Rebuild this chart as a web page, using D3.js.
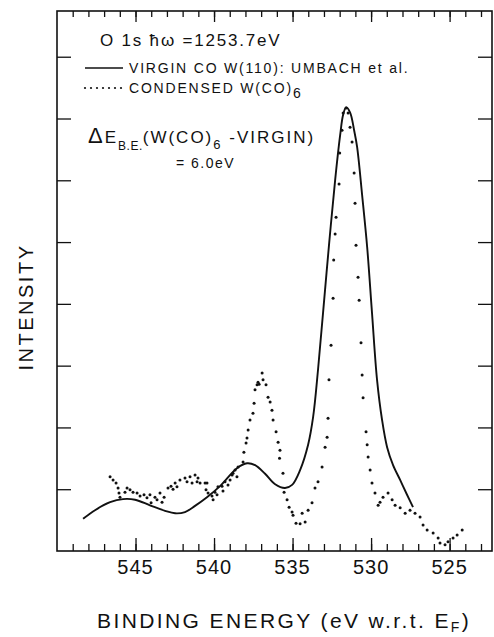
<!DOCTYPE html>
<html><head><meta charset="utf-8">
<script src="https://cdn.jsdelivr.net/npm/d3@7/dist/d3.min.js"></script>
<style>
body{margin:0;background:#fff}
text{font-family:"Liberation Sans",Arial,sans-serif;fill:#111}
</style></head>
<body><svg id="c" width="494" height="637"></svg>
<script>
// ---- data (binding energy eV, intensity arb. units) ----
const virginE = [548.34,547.58,546.62,545.80,545.03,544.08,543.12,542.48,541.85,541.21,540.45,539.62,538.54,537.90,537.39,536.75,536.11,535.48,535.03,534.52,534.01,533.69,533.38,533.06,532.68,532.29,531.97,531.78,531.59,531.34,531.08,530.89,530.57,530.25,529.94,529.62,529.30,528.98,528.60,528.15,527.71,527.33];
const virginI = [0.52,0.66,0.79,0.84,0.83,0.74,0.65,0.61,0.63,0.73,0.87,1.05,1.34,1.42,1.39,1.25,1.08,1.02,1.07,1.31,1.72,2.17,2.93,3.85,4.95,6.00,6.73,7.06,7.18,7.10,6.81,6.54,5.76,4.92,3.85,2.77,2.12,1.68,1.39,1.15,0.91,0.71];

const condensedE = [546.62,546.43,546.24,546.11,546.05,545.99,545.67,545.54,545.35,545.16,544.90,544.71,544.46,544.27,544.08,544.01,543.76,543.63,543.44,543.31,543.18,542.93,542.74,542.61,542.48,542.36,542.17,541.85,541.72,541.53,541.40,541.21,541.08,541.02,540.89,540.57,540.45,540.51,540.38,540.13,540.06,539.94,539.81,539.75,539.49,539.43,539.30,539.11,538.98,538.85,538.79,538.66,538.54,538.47,538.15,538.10,537.96,537.90,537.83,537.71,537.52,537.45,537.39,537.26,537.20,537.13,536.94,536.88,536.69,536.56,536.43,536.31,536.24,536.05,535.92,535.80,535.83,535.61,535.54,535.35,535.22,535.03,534.97,534.78,534.52,534.39,534.20,534.01,533.76,533.57,533.38,533.12,532.93,532.80,532.74,532.68,532.55,532.42,532.38,532.29,532.23,532.04,532.00,531.85,531.78,531.59,531.46,531.34,531.21,531.08,531.02,530.96,530.83,530.76,530.64,530.57,530.51,530.32,530.25,530.19,530.06,529.94,529.75,529.55,529.43,529.24,528.92,528.66,528.47,528.15,527.83,527.52,527.20,526.88,526.69,526.43,526.05,525.73,525.61,525.29,525.10,524.78,524.52,524.20];
const condensedI = [1.20,1.15,1.10,1.02,0.94,0.87,0.95,1.02,0.99,0.95,0.94,0.89,0.91,0.86,0.91,0.78,0.87,0.83,0.94,0.79,0.87,1.02,1.05,1.00,1.10,1.04,1.15,1.18,1.12,1.20,1.10,1.23,1.12,1.18,1.10,1.10,1.10,0.99,0.94,0.89,0.83,0.95,0.91,1.04,1.05,0.97,1.12,1.07,1.15,1.23,1.26,1.31,1.20,1.36,1.44,1.60,1.75,1.83,1.96,2.12,2.23,2.39,2.61,2.69,2.73,2.70,2.88,2.77,2.69,2.49,2.41,2.28,2.12,1.93,1.76,1.63,1.50,1.26,0.95,0.83,0.71,0.63,0.58,0.45,0.44,0.61,0.47,0.66,0.78,1.02,1.12,1.36,1.68,1.84,2.15,2.77,3.33,4.09,4.71,5.13,5.40,5.94,6.44,6.81,7.09,7.17,7.09,6.86,6.62,6.12,5.63,4.95,4.43,4.06,3.37,2.85,2.48,1.93,1.72,1.52,1.31,1.10,0.94,0.74,0.79,0.87,0.94,0.83,0.74,0.70,0.61,0.66,0.61,0.55,0.42,0.34,0.29,0.21,0.13,0.10,0.15,0.21,0.26,0.34];

const xDomain = [550, 522.3];
const yDomain = [0, 8.74];
const xMajorTicks = [545, 540, 535, 530, 525];
const xMinorTicks = d3.range(523, 550);
const yTicks = [1, 2, 3, 4, 5, 6, 7, 8];
const xTickLabels = ["545", "540", "535", "530", "525"];

// ---- drawing ----
const svg = d3.select("#c");
const L = 57, R = 492, T = 11, B = 551;
const x = d3.scaleLinear().domain(xDomain).range([L, R]);
const y = d3.scaleLinear().domain(yDomain).range([B, T]);
const ink = "#111";

function styleAxis(g){ g.select(".domain").remove(); g.selectAll("line").attr("stroke", ink).attr("stroke-width", 1.3); g.selectAll("text").remove(); }

svg.append("g").attr("transform", `translate(0,${B})`).call(d3.axisBottom(x).tickValues(xMinorTicks).tickSize(-7)).call(styleAxis);
svg.append("g").attr("transform", `translate(0,${B})`).call(d3.axisBottom(x).tickValues(xMajorTicks).tickSize(-13)).call(styleAxis);
svg.append("g").attr("transform", `translate(0,${T})`).call(d3.axisTop(x).tickValues(xMinorTicks).tickSize(-6)).call(styleAxis);
svg.append("g").attr("transform", `translate(0,${T})`).call(d3.axisTop(x).tickValues(xMajorTicks).tickSize(-11)).call(styleAxis);
svg.append("g").attr("transform", `translate(${L},0)`).call(d3.axisLeft(y).tickValues(yTicks).tickSize(-14)).call(styleAxis);
svg.append("g").attr("transform", `translate(${R},0)`).call(d3.axisRight(y).tickValues(yTicks).tickSize(-14)).call(styleAxis);

svg.append("rect").attr("x", L).attr("y", T).attr("width", R - L).attr("height", B - T)
  .attr("fill", "none").attr("stroke", ink).attr("stroke-width", 1.6);

// tick labels
svg.selectAll(".xl").data(xMajorTicks).enter().append("text")
  .attr("x", d => x(d)).attr("y", 574).attr("text-anchor", "middle")
  .style("font-size", "20px").style("letter-spacing", "1px")
  .text((d, i) => xTickLabels[i]);

// virgin solid line
const virgin = virginE.map((e, i) => [e, virginI[i]]);
svg.append("path").datum(virgin)
  .attr("d", d3.line().x(d => x(d[0])).y(d => y(d[1])).curve(d3.curveCatmullRom.alpha(0.5)))
  .attr("fill", "none").attr("stroke", ink).attr("stroke-width", 1.9);

// condensed dots
const cond = condensedE.map((e, i) => [e, condensedI[i]]);
svg.selectAll(".dot").data(cond).enter().append("circle")
  .attr("cx", d => x(d[0])).attr("cy", d => y(d[1])).attr("r", 1.5).attr("fill", ink);

// header text
svg.append("text").attr("x", 100).attr("y", 46).style("font-size", "17px").style("letter-spacing", "1.8px")
  .text("O 1s   ħω =1253.7eV");

// legend
svg.append("line").attr("x1", 85).attr("x2", 123).attr("y1", 68).attr("y2", 68).attr("stroke", ink).attr("stroke-width", 1.6);
svg.append("text").attr("x", 129).attr("y", 73).style("font-size", "14px").style("letter-spacing", "1.8px")
  .text("VIRGIN CO  W(110): UMBACH et al.");
svg.selectAll(".ld").data(d3.range(7)).enter().append("circle")
  .attr("cx", d => 85 + d * 6).attr("cy", 88).attr("r", 1.1).attr("fill", ink);
const t2 = svg.append("text").attr("x", 129).attr("y", 93).style("font-size", "14px").style("letter-spacing", "1.8px");
t2.append("tspan").text("CONDENSED W(CO)");
t2.append("tspan").attr("dy", 5).style("font-size", "14px").text("6");

// delta annotation
const t3 = svg.append("text").attr("x", 88).attr("y", 143).style("font-size", "17px").style("letter-spacing", "2px");
t3.append("tspan").style("font-size", "22px").text("Δ");
t3.append("tspan").text("E");
t3.append("tspan").attr("dy", 7).style("font-size", "12px").style("letter-spacing", "0.5px").text("B.E.");
t3.append("tspan").attr("dy", -7).text("(W(CO)");
t3.append("tspan").attr("dy", 6).style("font-size", "13px").text("6");
t3.append("tspan").attr("dy", -6).text(" -VIRGIN)");
svg.append("text").attr("x", 176).attr("y", 168).style("font-size", "14px").style("letter-spacing", "1.5px").text("= 6.0eV");

// axis titles
svg.append("text").attr("transform", "translate(33,307) rotate(-90)").attr("text-anchor", "middle")
  .style("font-size", "20px").style("letter-spacing", "2.5px").text("INTENSITY");
const t4 = svg.append("text").attr("x", 97).attr("y", 628).style("font-size", "21px").style("letter-spacing", "2.4px");
t4.append("tspan").text("BINDING ENERGY (eV w.r.t. E");
t4.append("tspan").attr("dy", 4).style("font-size", "14px").text("F");
t4.append("tspan").attr("dy", -4).text(")");
</script></body></html>
